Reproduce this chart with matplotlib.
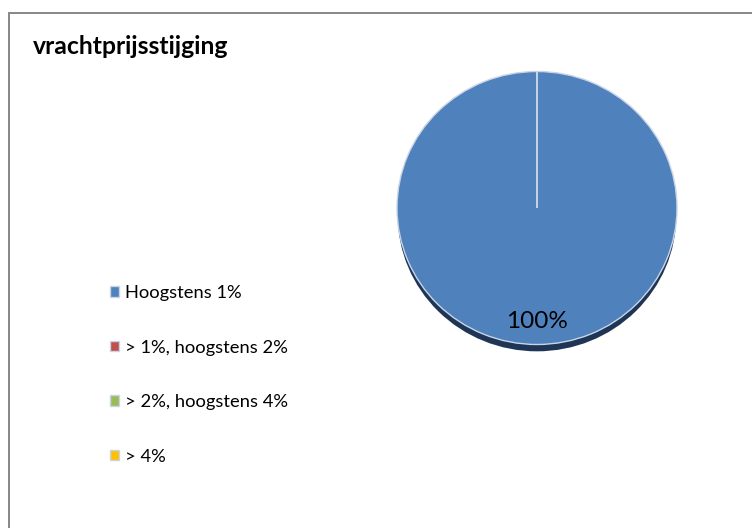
import matplotlib.pyplot as plt
from matplotlib.patches import Rectangle, Ellipse

plt.rcParams["font.family"] = ["Lato", "DejaVu Sans"]

W, H = 752, 528

title = "vrachtprijsstijging"
categories = ["Hoogstens 1%", "> 1%, hoogstens 2%", "> 2%, hoogstens 4%", "> 4%"]
shares = [100, 0, 0, 0]
colors = ["#4f81bd", "#c0504d", "#9bbb59", "#ffc000"]

fig = plt.figure(figsize=(W / 100, H / 100), dpi=100)
fig.patch.set_facecolor("white")

# chart area frame, running off the right and bottom edges
fig.patches.append(Rectangle((9 / W, -0.05), 1.1, (H - 13) / H + 0.05,
                             transform=fig.transFigure, fill=False,
                             edgecolor="#878787", linewidth=1.4))

fig.text(33 / W, 1 - 47 / H, title, fontsize=17.8, fontweight="bold",
         va="center", ha="left")

# pie axes: 280 px wide, 273 px tall (slightly flattened)
cx, cy, rx, ry = 537, 208, 140, 136.5
ax = fig.add_axes([(cx - rx) / W, 1 - (cy + ry) / H, 2 * rx / W, 2 * ry / H])
shadow = Ellipse((0, -0.055), 1.99, 1.99, facecolor="#1f3556",
                 edgecolor="none", zorder=0)
shadow.set_clip_on(False)
ax.add_patch(shadow)
wedges, texts, autotexts = ax.pie(
    shares, colors=colors, startangle=90, counterclock=False,
    radius=1.0, pctdistance=0.83,
    autopct=lambda p: f"{p:.0f}%" if p > 0 else "",
    wedgeprops=dict(edgecolor="#c9d5e6", linewidth=1.0),
    textprops=dict(fontsize=17.5, color="black"))
ax.set_aspect("auto")
ax.set_xlim(-1.0, 1.0)
ax.set_ylim(-1.0, 1.0)
ax.axis("off")

fig.legend(wedges, categories, loc="upper left",
           bbox_to_anchor=(101 / W, 1 - 276 / H), frameon=False,
           fontsize=13.2, handlelength=0.5, handleheight=0.5,
           handletextpad=0.3, labelspacing=2.1, borderpad=0)

fig.savefig("out.png", dpi=100)
